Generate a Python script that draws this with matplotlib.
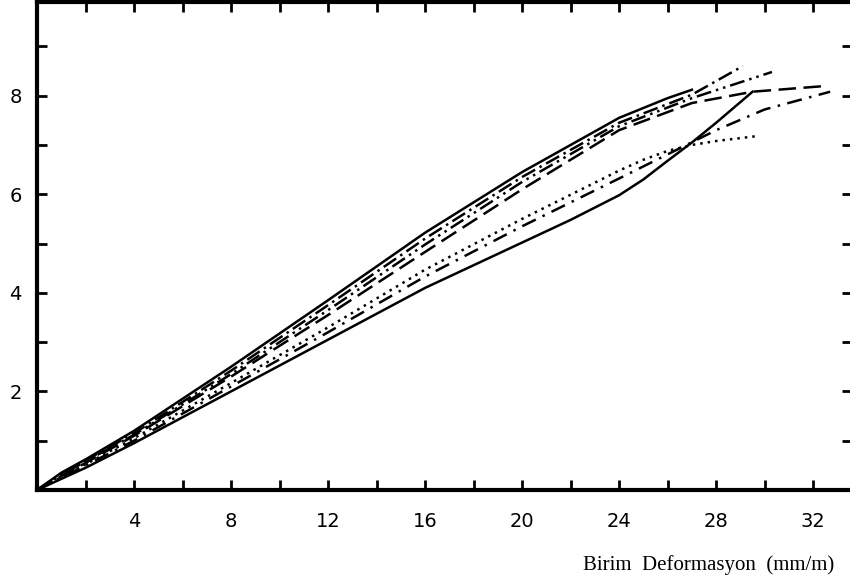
import matplotlib.pyplot as plt
import numpy as np

# strain (mm/m) vs stress readings
x_u1 = [0, 1, 2, 4, 8, 12, 16, 20, 24, 26, 27]
y_u1 = [0, 0.35, 0.62, 1.2, 2.5, 3.85, 5.22, 6.45, 7.55, 7.95, 8.12]

x_u2 = [0, 1, 2, 4, 8, 12, 16, 20, 24, 27, 29.1]
y_u2 = [0, 0.33, 0.6, 1.15, 2.42, 3.75, 5.1, 6.35, 7.45, 8.02, 8.6]

x_u3 = [0, 1, 2, 4, 8, 12, 16, 20, 24, 27, 30.3]
y_u3 = [0, 0.3, 0.58, 1.12, 2.35, 3.65, 4.98, 6.25, 7.38, 7.95, 8.48]

x_u4 = [0, 1, 2, 4, 8, 12, 16, 20, 24, 27, 29.5, 32.6]
y_u4 = [0, 0.28, 0.55, 1.1, 2.3, 3.55, 4.83, 6.1, 7.3, 7.85, 8.08, 8.2]

x_l1 = [0, 2, 4, 8, 12, 16, 20, 24, 25, 26, 27, 28, 29.7]
y_l1 = [0, 0.52, 1.05, 2.17, 3.3, 4.47, 5.5, 6.48, 6.7, 6.88, 7.0, 7.08, 7.18]

x_l2 = [0, 2, 4, 8, 12, 16, 20, 24, 28, 30, 31.5, 32.7]
y_l2 = [0, 0.5, 1.0, 2.1, 3.2, 4.33, 5.35, 6.32, 7.3, 7.72, 7.92, 8.08]

x_l3 = [0, 2, 4, 8, 12, 16, 20, 22, 24, 25, 26, 27, 28, 29.5]
y_l3 = [0, 0.45, 0.95, 2.0, 3.05, 4.1, 5.02, 5.48, 5.98, 6.3, 6.68, 7.05, 7.45, 8.08]

xticks = [4, 8, 12, 16, 20, 24, 28, 32]
yticks = [2, 4, 6, 8]

fig = plt.figure(figsize=(8.5, 5.86), dpi=100)
ax = fig.add_axes([37/850, 96/586, 815/850, 488/586])

lw = 1.8
ax.plot(x_u1, y_u1, color="black", linewidth=lw, linestyle="-")
ax.plot(x_u2, y_u2, color="black", linewidth=lw, linestyle=(0, (6, 2, 1, 2)))
ax.plot(x_u3, y_u3, color="black", linewidth=lw, linestyle=(0, (6, 2, 1, 2, 1, 2)))
ax.plot(x_u4, y_u4, color="black", linewidth=lw, linestyle=(0, (7, 3)))
ax.plot(x_l1, y_l1, color="black", linewidth=lw, linestyle=(0, (1, 2)))
ax.plot(x_l2, y_l2, color="black", linewidth=lw, linestyle=(0, (6, 3, 1, 3)))
ax.plot(x_l3, y_l3, color="black", linewidth=lw, linestyle="-")

ax.set_xlim(0, 33.6)
ax.set_ylim(0, 9.9)

ax.set_xticks(np.arange(2, 34, 2), minor=True)
ax.set_xticks(xticks)
ax.set_yticks(np.arange(1, 10, 1), minor=True)
ax.set_yticks(yticks)
ax.set_xticklabels([str(t) for t in xticks], fontsize=14)
ax.set_yticklabels([str(t) for t in yticks], fontsize=14)

ax.tick_params(which="both", direction="in", top=True, right=True,
               width=2, length=7)
ax.tick_params(axis="x", pad=16)
ax.tick_params(axis="y", pad=11)

for side in ["left", "bottom", "top"]:
    ax.spines[side].set_linewidth(3)
ax.spines["right"].set_visible(False)

fig.text(583/850, 1 - 565/586, "Birim  Deformasyon  (mm/m)",
         fontsize=15, family="Liberation Serif", va="center", ha="left")

plt.savefig("out.png", dpi=100)
